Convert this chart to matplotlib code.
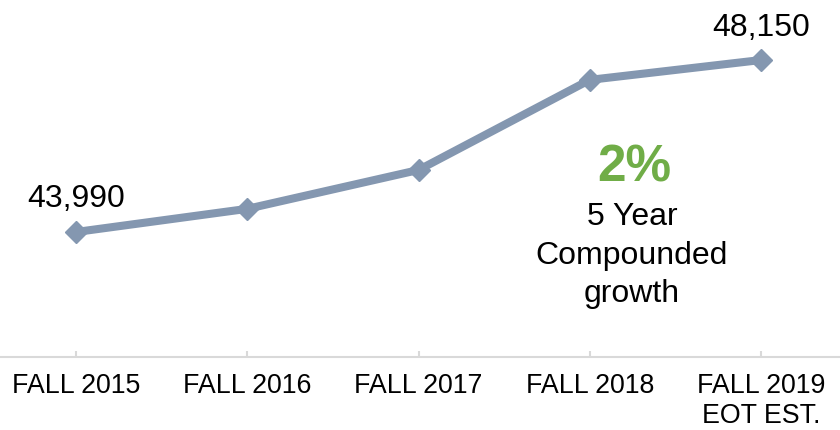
import matplotlib
matplotlib.use("Agg")
import matplotlib.pyplot as plt

# data
terms = ["FALL 2015", "FALL 2016", "FALL 2017", "FALL 2018", "FALL 2019\nEOT EST."]
enrollment = [43990, 44550, 45490, 47670, 48150]
growth_pct = "2%"
growth_note = ["5 Year", "Compounded", "growth"]

W, H = 840, 431
line_color = "#8497B0"
green = "#70AD47"
axis_gray = "#D9D9D9"

plt.rcParams["font.family"] = ["Liberation Sans", "DejaVu Sans"]

fig = plt.figure(figsize=(W / 100, H / 100), dpi=100)
ax = fig.add_axes([0, 1 - 358 / H, 1, 358 / H])

x = list(range(len(terms)))
ax.plot(x, enrollment, color=line_color, lw=5.8, marker="D", ms=11,
        solid_capstyle="round", zorder=3)

ax.set_xlim(-0.444, 4.461)
ax.set_ylim(40966, 49626)

for s in ["top", "left", "right"]:
    ax.spines[s].set_visible(False)
ax.spines["bottom"].set_color(axis_gray)
ax.spines["bottom"].set_linewidth(1.5)
ax.set_yticks([])
ax.set_xticks(x)
ax.set_xticklabels(terms, fontsize=19.3, color="#000000")
ax.tick_params(axis="x", direction="in", length=4.5, width=1.5,
               color=axis_gray, pad=11)

# first and last data labels
ax.annotate(f"{enrollment[0]:,}", (x[0], enrollment[0]), xytext=(0, 37),
            textcoords="offset pixels", ha="center", va="center_baseline",
            fontsize=23)
ax.annotate(f"{enrollment[-1]:,}", (x[-1], enrollment[-1]), xytext=(0, 37),
            textcoords="offset pixels", ha="center", va="center_baseline",
            fontsize=23)


def fig_xy(px, py):
    return px / W, 1 - py / H


fig.text(*fig_xy(634, 163), growth_pct, color=green, fontsize=37,
         fontweight="bold", ha="center", va="center_baseline")
for i, line in enumerate(growth_note):
    fig.text(*fig_xy(632, 214 + 38.5 * i), line, fontsize=23,
             ha="center", va="center_baseline")

fig.savefig("out.png", dpi=100)
